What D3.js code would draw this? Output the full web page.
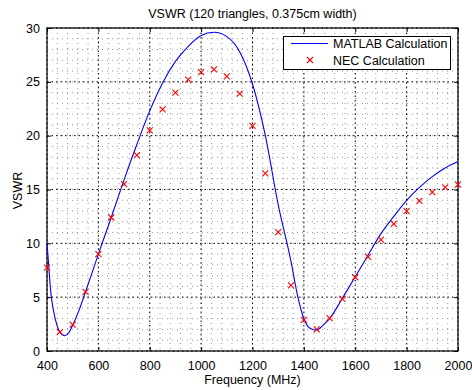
<!DOCTYPE html>
<meta charset="UTF-8">
<head>
  <script src="https://d3js.org/d3.v7.min.js"></script>
  <style>
    body { margin: 0; background: #fff; }
    text { font-family: "Liberation Sans", Arial, Helvetica, sans-serif; fill: #000; }
  </style>
</head>
<body>
  <svg id="svg" width="472" height="390"></svg>
  <script>
    // MATLAB curve
    const matlabFreq = [400, 405, 415, 425, 440, 450, 470, 485, 500, 525, 550, 600, 650, 700, 750, 800, 850, 900, 950, 1000,
      1050, 1100, 1150, 1200, 1250, 1300, 1350, 1375, 1400, 1425, 1450, 1475, 1500, 1550, 1600, 1650, 1700, 1750, 1800,
      1850, 1900, 1950, 2000];
    const matlabVswr = [10.0, 8.5, 5.4, 3.8, 2.3, 1.75, 1.42, 1.7, 2.4, 3.8, 5.5, 9.0, 12.4, 15.9, 19.2, 22.3, 24.9, 26.9, 28.3, 29.3,
      29.6, 29.2, 27.8, 24.8, 20.0, 13.6, 8.3, 5.2, 3.0, 2.1, 1.95, 2.4, 3.0, 4.9, 6.9, 8.9, 10.9, 12.5, 14.0,
      15.2, 16.2, 17.0, 17.6];

    // NEC points
    const necFreq = [400, 450, 500, 550, 600, 650, 700, 750, 800, 850, 900, 950, 1000, 1050, 1100, 1150, 1200, 1250, 1300,
      1350, 1400, 1450, 1500, 1550, 1600, 1650, 1700, 1750, 1800, 1850, 1900, 1950, 2000];
    const necVswr = [7.75, 1.75, 2.45, 5.5, 9.0, 12.4, 15.5, 18.2, 20.5, 22.45, 24.0, 25.2, 25.9, 26.15, 25.5, 23.9, 20.9, 16.5, 11.05,
      6.1, 2.9, 2.0, 3.05, 4.85, 6.85, 8.75, 10.35, 11.8, 13.0, 13.95, 14.75, 15.2, 15.45];

    const xTicks = [400, 600, 800, 1000, 1200, 1400, 1600, 1800, 2000];
    const yTicks = [0, 5, 10, 15, 20, 25, 30];
    const xMinor = d3.range(400, 2001, 40);
    const yMinor = d3.range(0, 31, 1);

    const svg = d3.select("#svg");
    const L = 47, R = 458, T = 28, B = 351;
    const x = d3.scaleLinear().domain([400, 2000]).range([L, R]);
    const y = d3.scaleLinear().domain([0, 30]).range([B, T]);

    // minor grid
    const g = svg.append("g");
    g.selectAll(".mx").data(xMinor).enter().append("line")
      .attr("x1", d => x(d)).attr("x2", d => x(d)).attr("y1", T).attr("y2", B)
      .attr("stroke", "#999").attr("stroke-width", 1).attr("stroke-dasharray", "1,4");
    g.selectAll(".my").data(yMinor).enter().append("line")
      .attr("y1", d => y(d)).attr("y2", d => y(d)).attr("x1", L).attr("x2", R)
      .attr("stroke", "#999").attr("stroke-width", 1).attr("stroke-dasharray", "1,4");
    // major grid
    g.selectAll(".gx").data(xTicks).enter().append("line")
      .attr("x1", d => x(d)).attr("x2", d => x(d)).attr("y1", T).attr("y2", B)
      .attr("stroke", "#000").attr("stroke-width", 1).attr("stroke-dasharray", "1.5,3");
    g.selectAll(".gy").data(yTicks).enter().append("line")
      .attr("y1", d => y(d)).attr("y2", d => y(d)).attr("x1", L).attr("x2", R)
      .attr("stroke", "#000").attr("stroke-width", 1).attr("stroke-dasharray", "1.5,3");

    // axes with inward ticks
    const fs = "12.5px";
    const fmt = d3.format("d");
    const ax = svg.append("g").attr("transform", `translate(0,${B})`)
      .call(d3.axisBottom(x).tickValues(xTicks).tickFormat(fmt).tickSizeInner(-4).tickSizeOuter(0).tickPadding(10));
    const axTop = svg.append("g").attr("transform", `translate(0,${T})`)
      .call(d3.axisTop(x).tickValues(xTicks).tickSizeInner(-4).tickSizeOuter(0).tickFormat(""));
    const ay = svg.append("g").attr("transform", `translate(${L},0)`)
      .call(d3.axisLeft(y).tickValues(yTicks).tickFormat(fmt).tickSizeInner(-4).tickSizeOuter(0).tickPadding(7));
    const ayR = svg.append("g").attr("transform", `translate(${R},0)`)
      .call(d3.axisRight(y).tickValues(yTicks).tickSizeInner(-4).tickSizeOuter(0).tickFormat(""));
    [ax, axTop, ay, ayR].forEach(a => {
      a.select(".domain").remove();
      a.selectAll("line").attr("stroke", "#000");
      a.selectAll("text").style("font-size", fs).attr("font-family", null);
    });

    svg.append("rect").attr("x", L).attr("y", T).attr("width", R - L).attr("height", B - T)
      .attr("fill", "none").attr("stroke", "#000").attr("stroke-width", 1.2);

    // MATLAB line
    const lineData = matlabFreq.map((f, i) => [f, matlabVswr[i]]);
    svg.append("path").datum(lineData)
      .attr("fill", "none").attr("stroke", "#0000ff").attr("stroke-width", 1.1)
      .attr("d", d3.line().x(d => x(d[0])).y(d => y(d[1])).curve(d3.curveMonotoneX));

    // NEC markers
    const s = 3;
    const necData = necFreq.map((f, i) => [f, necVswr[i]]);
    svg.append("g").selectAll("path").data(necData).enter().append("path")
      .attr("d", d => `M${x(d[0]) - s},${y(d[1]) - s}L${x(d[0]) + s},${y(d[1]) + s}M${x(d[0]) - s},${y(d[1]) + s}L${x(d[0]) + s},${y(d[1]) - s}`)
      .attr("stroke", "#ff0000").attr("stroke-width", 1.1).attr("fill", "none");

    // title and labels
    svg.append("text").attr("x", 252.5).attr("y", 18.3).attr("text-anchor", "middle")
      .style("font-size", fs).text("VSWR (120 triangles, 0.375cm width)");
    svg.append("text").attr("x", 252.5).attr("y", 383.5).attr("text-anchor", "middle")
      .style("font-size", fs).text("Frequency (MHz)");
    svg.append("text").attr("transform", "translate(21.7,190.5) rotate(-90)").attr("text-anchor", "middle")
      .style("font-size", fs).text("VSWR");

    // legend
    const lg = svg.append("g");
    lg.append("rect").attr("x", 283.5).attr("y", 36.5).attr("width", 167).attr("height", 33)
      .attr("fill", "#fff").attr("stroke", "#000").attr("stroke-width", 1);
    lg.append("line").attr("x1", 291).attr("x2", 328).attr("y1", 43.5).attr("y2", 43.5)
      .attr("stroke", "#0000ff").attr("stroke-width", 1.1);
    lg.append("path")
      .attr("d", `M${310 - s},${60 - s}L${310 + s},${60 + s}M${310 - s},${60 + s}L${310 + s},${60 - s}`)
      .attr("stroke", "#ff0000").attr("stroke-width", 1.1);
    lg.append("text").attr("x", 333).attr("y", 48).style("font-size", fs).text("MATLAB Calculation");
    lg.append("text").attr("x", 333).attr("y", 64.5).style("font-size", fs).text("NEC Calculation");
  </script>
</body>
